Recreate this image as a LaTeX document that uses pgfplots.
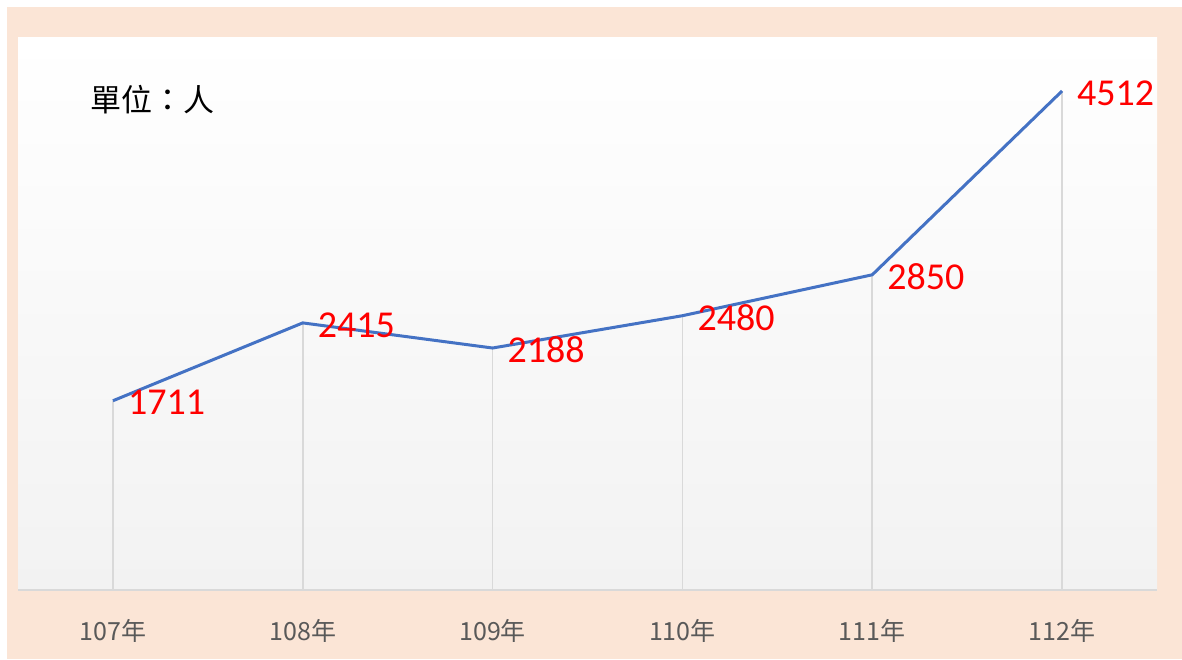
\documentclass[border=0pt]{standalone}
\usepackage{pgfplots}
\pgfplotsset{compat=1.18}
\usepackage{fontspec}
\setmainfont{Carlito}
\newfontfamily\cjk{Noto Sans CJK TC}
\definecolor{peach}{HTML}{FBE5D6}
\definecolor{bgbot}{HTML}{F2F2F2}
\definecolor{dropc}{HTML}{D9D9D9}
\definecolor{lineblue}{HTML}{4472C4}
\definecolor{ticktxt}{HTML}{595959}
\begin{document}
\begin{tikzpicture}
\useasboundingbox (0,0) rectangle (591pt,-329.5pt);
\fill[white] (0,0) rectangle (591pt,-329.5pt);
\fill[peach] (3.5pt,-3.5pt) rectangle (591pt,-329.5pt);
\begin{axis}[
  at={(9pt,-18.5pt)}, anchor=north west,
  scale only axis, width=569.5pt, height=276.5pt,
  xmin=-0.5, xmax=5.5, ymin=0, ymax=5000,
  axis background/.style={shade, top color=white, bottom color=bgbot, draw=none},
  axis x line=bottom, axis y line=none,
  x axis line style={draw=dropc, line width=0.75pt, -},
  xtick={0,1,2,3,4,5},
  xticklabels={107年,108年,109年,110年,111年,112年},
  major tick length=0pt,
  xticklabel style={font=\cjk\fontsize{12.5}{14}\selectfont, text=ticktxt, anchor=center, yshift=-20.5pt},
  ytick=\empty,
  clip=false,
]
\addplot[ycomb, draw=dropc, line width=0.9pt, mark=none] coordinates {(0,1711) (1,2415) (2,2188) (3,2480) (4,2850) (5,4512)};
\addplot[draw=lineblue, line width=1.5pt, mark=none,
  point meta=explicit symbolic,
  nodes near coords,
  every node near coord/.style={anchor=west, inner sep=0pt, xshift=6.8pt, yshift=-1pt, text=red, font=\fontsize{19}{21}\selectfont}]
  coordinates {(0,1711)[1711] (1,2415)[2415] (2,2188)[2188] (3,2480)[2480] (4,2850)[2850] (5,4512)[4512]};
\end{axis}
\node[anchor=west, inner sep=0pt, font=\cjk\fontsize{15.5}{17}\selectfont] at (45pt,-50pt) {單位：人};
\end{tikzpicture}
\end{document}
